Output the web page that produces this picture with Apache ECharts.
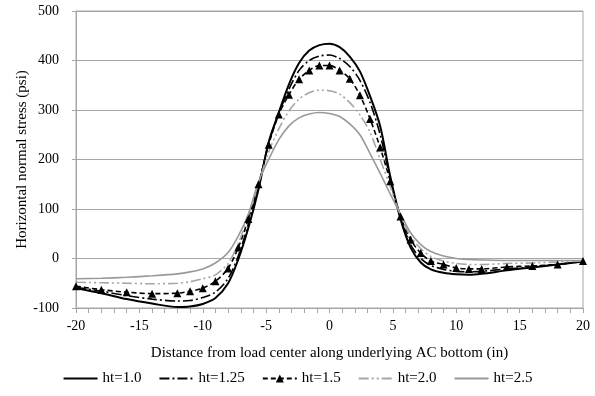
<!DOCTYPE html>
<html><head><meta charset="utf-8">
<script src="https://cdn.jsdelivr.net/npm/echarts@6/dist/echarts.min.js"></script>
<style>html,body{margin:0;padding:0;background:#fff}#c{width:595px;height:396px}</style>
</head><body><div id="c"></div>
<script>
const xs = [-20,-18,-16,-14,-12,-11,-10,-9,-8,-7.2,-6.4,-5.6,-4.8,-4,-3.2,-2.4,-1.6,-0.8,0,0.8,1.6,2.4,3.2,4,4.8,5.6,6.4,7.2,8,9,10,11,12,14,16,18,20];
const ht10 = [-60,-70,-82,-91,-98,-97,-92,-80,-50,-2,62,140,235,295,352,395,420,431,434,427,408,378,328,267,165,80,22,-8,-22,-29,-32,-33,-31,-24,-18,-12,-6];
const ht125 = [-58,-66,-75,-82,-86,-85,-79,-68,-40,5,70,145,233,293,342,380,400,409,411,404,388,360,315,250,160,82,28,0,-14,-22,-26,-27,-26,-21,-17,-12,-6];
const ht15 = [-56,-63,-68,-71,-70,-66,-60,-46,-20,22,80,150,230,291,331,362,380,390,390,380,363,330,282,224,156,85,38,11,-5,-12,-19,-21,-21,-17,-15,-12,-5];
const ht20 = [-48,-49,-50,-51,-50,-47,-41,-33,-10,30,88,152,215,262,298,322,335,340,339,332,315,290,255,200,145,87,45,20,4,-5,-10,-12,-12,-10,-9,-7,-5];
const ht25 = [-41,-40,-38,-35,-31,-27,-21,-9,12,45,90,155,200,240,268,284,292,295,293,287,272,250,212,172,130,90,52,28,14,5,0,-2,-3,-4,-4,-4,-4];
const seriesNames = ['ht=1.0','ht=1.25','ht=1.5','ht=2.0','ht=2.5'];
const xTicks = [-20,-15,-10,-5,0,5,10,15,20];
const yTicks = [-100,0,100,200,300,400,500];

const pair = arr => xs.map((x,i)=>[x,arr[i]]);
const font = 'Liberation Serif';
const axisGray = '#a6a6a6';
const hidden = {color:'rgba(0,0,0,0)',borderWidth:0};
const chart = echarts.init(document.getElementById('c'), null, {renderer:'canvas'});
chart.setOption({
  animation:false,
  grid:{left:76,right:12,top:11,bottom:88,show:true,borderColor:axisGray,borderWidth:1},
  legend:{
    bottom:5,left:'center',itemWidth:34,itemHeight:10,itemGap:17,
    textStyle:{fontFamily:font,fontSize:15,color:'#000'},
    data:seriesNames
  },
  xAxis:{
    type:'value',min:xTicks[0],max:xTicks[xTicks.length-1],interval:5,
    name:'Distance from load center along underlying AC bottom (in)',
    nameLocation:'middle',nameGap:38,nameMoveOverlap:false,
    nameTextStyle:{fontFamily:font,fontSize:15,color:'#000'},
    axisLine:{show:true,onZero:false,lineStyle:{color:axisGray}},
    axisTick:{show:true,length:5,lineStyle:{color:axisGray}},
    minorTick:{show:true,splitNumber:5,length:5,lineStyle:{color:axisGray}},
    axisLabel:{fontFamily:font,fontSize:14,color:'#000',margin:11},
    splitLine:{show:false}
  },
  yAxis:{
    type:'value',min:yTicks[0],max:yTicks[yTicks.length-1],interval:100,
    name:'Horizontal normal stress (psi)',nameLocation:'middle',nameGap:46,nameMoveOverlap:false,
    nameTextStyle:{fontFamily:font,fontSize:15,color:'#000'},
    axisLine:{show:true,onZero:false,lineStyle:{color:axisGray}},
    axisTick:{show:true,length:4,lineStyle:{color:axisGray}},
    axisLabel:{fontFamily:font,fontSize:14,color:'#000',margin:17},
    splitLine:{show:true,lineStyle:{color:axisGray,width:1}}
  },
  series:[
    {name:seriesNames[0],type:'line',data:pair(ht10),smooth:0.3,symbol:'circle',showSymbol:false,
     lineStyle:{color:'#000',width:2,type:'solid'},itemStyle:hidden},
    {name:seriesNames[1],type:'line',data:pair(ht125),smooth:0.3,symbol:'circle',showSymbol:false,
     lineStyle:{color:'#000',width:1.6,type:[10,3,2,3]},itemStyle:hidden},
    {name:seriesNames[2],type:'line',data:pair(ht15),smooth:0.3,symbol:'triangle',symbolSize:8,showSymbol:true,
     lineStyle:{color:'#000',width:1.6,type:[5,3]},itemStyle:{color:'#000'}},
    {name:seriesNames[3],type:'line',data:pair(ht20),smooth:0.3,symbol:'circle',showSymbol:false,
     lineStyle:{color:'#a6a6a6',width:1.6,type:[10,3,2,3,2,3]},itemStyle:hidden},
    {name:seriesNames[4],type:'line',data:pair(ht25),smooth:0.3,symbol:'circle',showSymbol:false,
     lineStyle:{color:'#999999',width:1.6,type:'solid'},itemStyle:hidden}
  ]
});
</script></body></html>
